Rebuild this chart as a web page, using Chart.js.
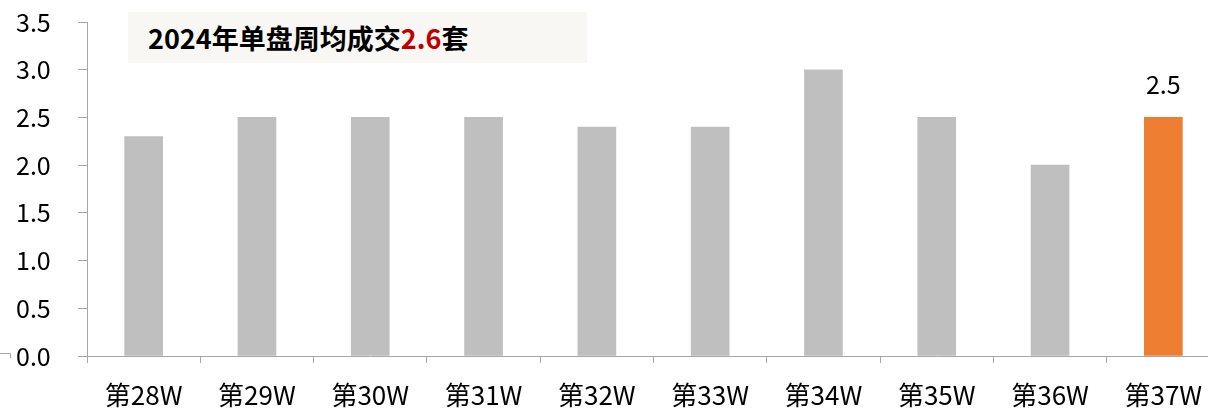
<!DOCTYPE html>
<html>
<head>
<meta charset="utf-8">
<script src="https://cdn.jsdelivr.net/npm/chart.js@4.4.1/dist/chart.umd.min.js"></script>
<style>
    html, body { margin: 0; padding: 0; background: #fff; overflow: hidden; }
    #wrap { position: relative; width: 1230px; height: 410px; }
    #note {
        position: absolute; left: 128px; top: 12px; width: 459px; height: 51px;
        background: #F8F7F3; box-sizing: border-box; padding-left: 20px;
        font: bold 27px "Noto Sans CJK SC", sans-serif; line-height: 51px; color: #000;
    }
    #note .hl { color: #C00000; }
</style>
</head>
<body>
<div id="wrap">
    <canvas id="weekly"></canvas>
    <div id="note">2024年单盘周均成交<span class="hl">2.6</span>套</div>
</div>
<script>
const weeks = ['第28W', '第29W', '第30W', '第31W', '第32W', '第33W', '第34W', '第35W', '第36W', '第37W']
const avgDeals = [2.3, 2.5, 2.5, 2.5, 2.4, 2.4, 3.0, 2.5, 2.0, 2.5]
// only the latest week gets highlighted and labelled
const labelledIndex = 9

const FONT = '"Noto Sans CJK SC", sans-serif'
const AXIS_GREY = '#A6A6A6'

// value label above the highlighted bar
const lastValueLabel = {
    id: 'lastValueLabel',
    afterDatasetsDraw(chart){
        const ctx = chart.ctx
        const bar = chart.getDatasetMeta(0).data[labelledIndex]
        ctx.save()
        ctx.font = '25px ' + FONT
        ctx.fillStyle = '#000'
        ctx.textAlign = 'center'
        ctx.textBaseline = 'bottom'
        ctx.fillText(avgDeals[labelledIndex].toFixed(1), bar.x, bar.y - 20)
        ctx.restore()
    },
    afterDraw(chart){
        // small stray bracket left of the 0.0 label in the original
        const ctx = chart.ctx
        ctx.save()
        ctx.strokeStyle = AXIS_GREY
        ctx.lineWidth = 1
        ctx.beginPath()
        ctx.moveTo(0, 353.5)
        ctx.lineTo(10.5, 353.5)
        ctx.lineTo(10.5, 358)
        ctx.stroke()
        ctx.restore()
    }
}

const config = {
    type: 'bar',
    data: {
        labels: weeks,
        datasets: [{
            data: avgDeals,
            backgroundColor: avgDeals.map((v, i) => i === labelledIndex ? '#ED7D31' : '#BFBFBF'),
            barThickness: 38,
        }]
    },
    options: {
        responsive: false,
        animation: false,
        devicePixelRatio: 1,
        layout: {
            padding: {top: 22, right: 10, bottom: 0, left: 16}
        },
        plugins: {
            legend: {display: false},
            tooltip: {enabled: false}
        },
        scales: {
            x: {
                afterFit: (s) => { s.height = 54 },
                grid: {
                    offset: true,
                    drawOnChartArea: false,
                    tickLength: 7,
                    color: AXIS_GREY
                },
                border: {color: AXIS_GREY},
                ticks: {
                    color: '#000',
                    padding: 17,
                    maxRotation: 0,
                    autoSkip: false,
                    font: {family: FONT, size: 26}
                }
            },
            y: {
                min: 0,
                max: 3.5,
                afterFit: (s) => { s.width = 71 },
                grid: {
                    drawOnChartArea: false,
                    tickLength: 9,
                    color: AXIS_GREY
                },
                border: {color: AXIS_GREY},
                ticks: {
                    stepSize: 0.5,
                    color: '#000',
                    padding: 2,
                    crossAlign: 'far',
                    font: {family: FONT, size: 25},
                    callback: (v) => v.toFixed(1)
                }
            }
        }
    },
    plugins: [lastValueLabel]
}

const canvas = document.getElementById('weekly')
canvas.width = 1230
canvas.height = 410
new Chart(canvas, config)
</script>
</body>
</html>
